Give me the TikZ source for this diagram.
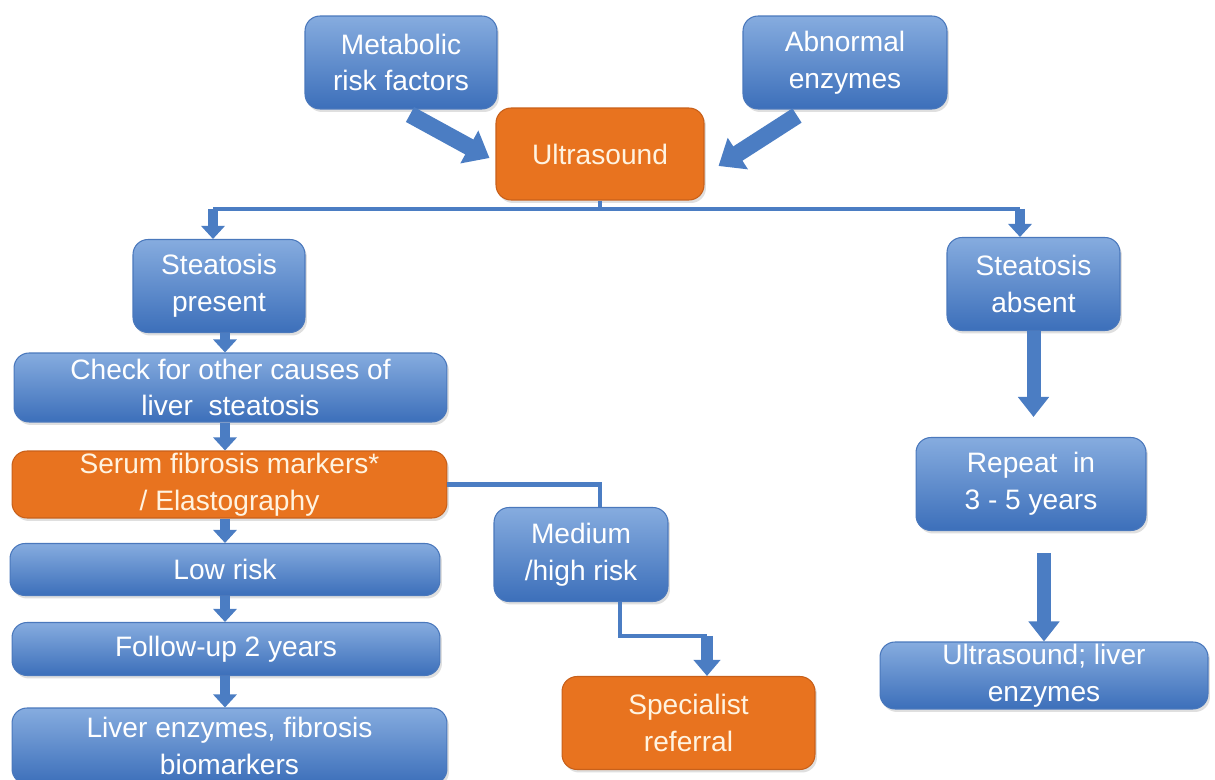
\documentclass[tikz,border=0pt]{standalone}
\usepackage{fontspec}
\setmainfont{Liberation Sans}
\usetikzlibrary{arrows.meta,shadows,calc}
\definecolor{btop}{HTML}{86ACDF}
\definecolor{bbot}{HTML}{3C6FBA}
\definecolor{bline}{HTML}{4A78BC}
\definecolor{org}{HTML}{E8731F}
\definecolor{orgline}{HTML}{C8601A}
\definecolor{arr}{HTML}{4B7DC3}
\definecolor{cream}{HTML}{FFF3E0}
\begin{document}
\begin{tikzpicture}[x=0.02cm,y=-0.02cm,
  bluebox/.style={draw=bline, line width=0.6pt, rounded corners=0.3cm,
    top color=btop, bottom color=bbot, text=white, align=center,
    font=\fontsize{16}{21}\selectfont, inner sep=0pt,
    drop shadow={opacity=0.25, shadow xshift=0.04cm, shadow yshift=-0.06cm}},
  orangebox/.style={bluebox, top color=org, bottom color=org, draw=orgline, text=cream},
  conline/.style={draw=arr, line width=0.09cm},
  blkS/.style={draw=arr, line width=0.2cm, -{Triangle[width=0.46cm,length=0.26cm]}},
  blkM/.style={draw=arr, line width=0.24cm, -{Triangle[width=0.52cm,length=0.32cm]}},
  blkL/.style={draw=arr, line width=0.28cm, -{Triangle[width=0.6cm,length=0.4cm]}},
  blkD/.style={draw=arr, line width=0.34cm, -{Triangle[width=0.72cm,length=0.46cm]}}]
\clip (0,0) rectangle (1215,780);
\fill[white] (0,0) rectangle (1215,780);

\node[bluebox, minimum width=3.84cm, minimum height=1.86cm] (meta) at (401,62.5) {Metabolic\\risk factors};
\node[bluebox, minimum width=4.08cm, minimum height=1.86cm] (abn) at (845,62.5) {Abnormal\\enzymes};
\node[orangebox, minimum width=4.16cm, minimum height=1.84cm] (us) at (600,154) {Ultrasound};
\node[bluebox, minimum width=3.44cm, minimum height=1.86cm] (sp) at (219,286) {Steatosis\\present};
\node[bluebox, minimum width=3.46cm, minimum height=1.86cm] (sa) at (1033.5,284) {Steatosis\\absent};
\node[bluebox, minimum width=8.66cm, minimum height=1.38cm] (chk) at (230.5,387.5) {Check for other causes of\\liver\ \ steatosis};
\node[orangebox, minimum width=8.70cm, minimum height=1.34cm] (ser) at (229.5,484.5) {Serum fibrosis markers*\\/ Elastography};
\node[bluebox, minimum width=8.60cm, minimum height=1.04cm] (low) at (225,569.5) {Low risk};
\node[bluebox, minimum width=8.56cm, minimum height=1.06cm] (fol) at (226,649) {Follow-up 2 years};
\node[bluebox, minimum width=8.70cm, minimum height=1.52cm] (liv) at (229.5,746) {Liver enzymes, fibrosis\\biomarkers};
\node[bluebox, minimum width=3.48cm, minimum height=1.88cm] (med) at (581,554.5) {Medium\\/high risk};
\node[orangebox, minimum width=5.06cm, minimum height=1.86cm] (spec) at (688.5,723) {Specialist\\referral};
\node[bluebox, minimum width=4.60cm, minimum height=1.86cm] (rep) at (1031,484) {Repeat\ \ in\\3 - 5 years};
\node[bluebox, minimum width=6.56cm, minimum height=1.34cm] (uslv) at (1044,675.5) {Ultrasound; liver\\enzymes};

% diagonal inputs
\draw[blkD] ($(meta.south)+(9,5)$) -- ($(us.west)+(-6,4)$);
\draw[blkD] ($(abn.south)+(-48,6)$) -- ($(us.east)+(14,12)$);

% split below ultrasound
\coordinate (j) at (600,209);
\coordinate (jl) at (213,209);
\coordinate (jr) at (1020,209);
\draw[conline] (us.south) -- (j);
\draw[conline] (jl) -- (jr);
\draw[blkS] (jl) -- (jl |- sp.north);
\draw[blkS] (jr) -- (jr |- sa.north);

% left column
\coordinate (colx) at (225,0);
\draw[blkS] (sp.south -| colx) -- (chk.north -| colx);
\draw[blkS] (chk.south -| colx) -- (ser.north -| colx);
\draw[blkS] (ser.south -| colx) -- (low.north -| colx);
\draw[blkS] (low.south -| colx) -- (fol.north -| colx);
\draw[blkS] (fol.south -| colx) -- (liv.north -| colx);

% branch to medium / specialist
\draw[conline] (ser.east) -| ([xshift=0.38cm]med.north);
\coordinate (mk) at (707,636);
\draw[conline] ([xshift=0.78cm]med.south) |- (mk);
\draw[blkM] (mk) -- (mk |- spec.north);

% right column
\draw[blkL, shorten >=0.4cm] (sa.south) -- (sa.south |- rep.north);
\draw[blkL, shorten <=0.44cm] (rep.south -| uslv.north) -- (uslv.north);
\end{tikzpicture}
\end{document}
